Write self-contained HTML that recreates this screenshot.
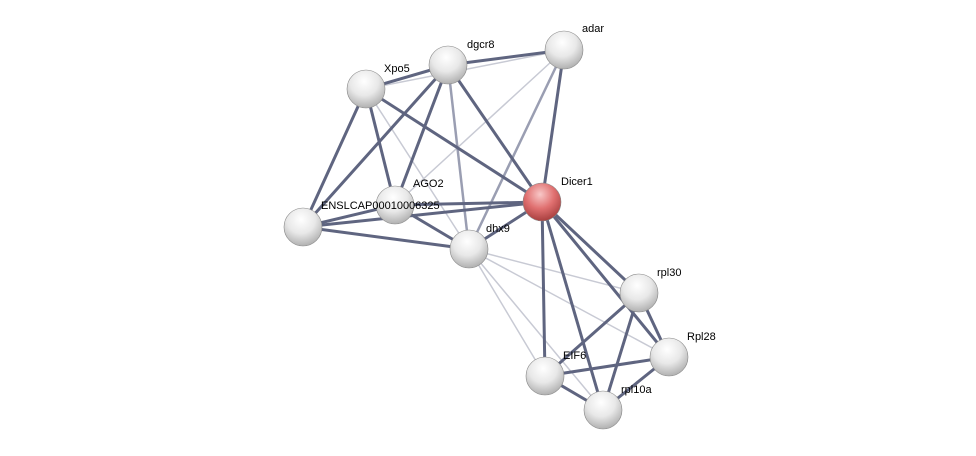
<!DOCTYPE html>
<html><head><meta charset="utf-8"><style>
html,body{margin:0;padding:0;background:#fff;width:976px;height:456px;overflow:hidden}
text{font-family:"Liberation Sans",sans-serif;font-size:11px;fill:#000}
</style></head><body>
<svg width="976" height="456" viewBox="0 0 976 456" xmlns="http://www.w3.org/2000/svg">
<defs>
<radialGradient id="g" cx="0.45" cy="0.3" r="0.75">
<stop offset="0" stop-color="#ffffff"/><stop offset="0.5" stop-color="#e8e8e8"/><stop offset="1" stop-color="#a8a8a8"/></radialGradient>
<radialGradient id="r" cx="0.45" cy="0.3" r="0.75">
<stop offset="0" stop-color="#f8c8c8"/><stop offset="0.5" stop-color="#e07070"/><stop offset="1" stop-color="#a03838"/></radialGradient>
</defs>
<g stroke-linecap="round">
<g stroke="#c8cad4" stroke-width="1.5">
<line x1="366" y1="89" x2="564" y2="50"/>
<line x1="564" y1="50" x2="395" y2="205"/>
<line x1="366" y1="89" x2="469" y2="249"/>
<line x1="469" y1="249" x2="639" y2="293"/>
<line x1="469" y1="249" x2="545" y2="376"/>
<line x1="469" y1="249" x2="603" y2="410"/>
<line x1="469" y1="249" x2="669" y2="357"/>
</g>
<g stroke="#9a9eb2" stroke-width="2.5">
<line x1="564" y1="50" x2="469" y2="249"/>
<line x1="448" y1="65" x2="469" y2="249"/>
</g>
<g stroke="#5f6580" stroke-width="3">
<line x1="366" y1="89" x2="448" y2="65"/>
<line x1="448" y1="65" x2="564" y2="50"/>
<line x1="448" y1="65" x2="303" y2="227"/>
<line x1="448" y1="65" x2="395" y2="205"/>
<line x1="448" y1="65" x2="542" y2="202"/>
<line x1="564" y1="50" x2="542" y2="202"/>
<line x1="366" y1="89" x2="303" y2="227"/>
<line x1="366" y1="89" x2="395" y2="205"/>
<line x1="366" y1="89" x2="542" y2="202"/>
<line x1="395" y1="205" x2="303" y2="227"/>
<line x1="395" y1="205" x2="542" y2="202"/>
<line x1="395" y1="205" x2="469" y2="249"/>
<line x1="303" y1="227" x2="542" y2="202"/>
<line x1="303" y1="227" x2="469" y2="249"/>
<line x1="469" y1="249" x2="542" y2="202"/>
<line x1="542" y1="202" x2="639" y2="293"/>
<line x1="542" y1="202" x2="669" y2="357"/>
<line x1="542" y1="202" x2="545" y2="376"/>
<line x1="542" y1="202" x2="603" y2="410"/>
<line x1="639" y1="293" x2="669" y2="357"/>
<line x1="639" y1="293" x2="603" y2="410"/>
<line x1="639" y1="293" x2="545" y2="376"/>
<line x1="669" y1="357" x2="545" y2="376"/>
<line x1="669" y1="357" x2="603" y2="410"/>
<line x1="545" y1="376" x2="603" y2="410"/>
</g>
</g>
<g stroke="#888" stroke-width="0.6">
<circle cx="564" cy="50" r="19" fill="url(#g)"/>
<circle cx="448" cy="65" r="19" fill="url(#g)"/>
<circle cx="366" cy="89" r="19" fill="url(#g)"/>
<circle cx="395" cy="205" r="19" fill="url(#g)"/>
<circle cx="303" cy="227" r="19" fill="url(#g)"/>
<circle cx="469" cy="249" r="19" fill="url(#g)"/>
<circle cx="542" cy="202" r="19" fill="url(#r)"/>
<circle cx="639" cy="293" r="19" fill="url(#g)"/>
<circle cx="669" cy="357" r="19" fill="url(#g)"/>
<circle cx="545" cy="376" r="19" fill="url(#g)"/>
<circle cx="603" cy="410" r="19" fill="url(#g)"/>
</g>
<text x="582" y="32">adar</text>
<text x="467" y="48">dgcr8</text>
<text x="384" y="72">Xpo5</text>
<text x="413" y="187">AGO2</text>
<text x="321" y="209">ENSLCAP00010006325</text>
<text x="486" y="232">dhx9</text>
<text x="561" y="185">Dicer1</text>
<text x="657" y="276">rpl30</text>
<text x="687" y="340">Rpl28</text>
<text x="563" y="359">EIF6</text>
<text x="621" y="393">rpl10a</text>
</svg>
</body></html>
